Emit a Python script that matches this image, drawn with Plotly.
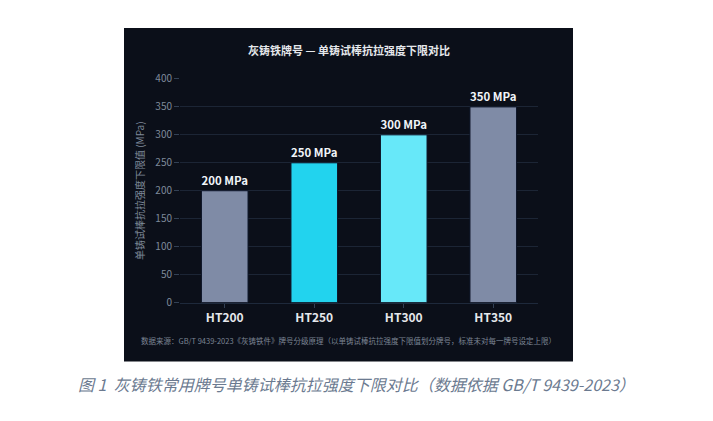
import plotly.graph_objects as go

grades = ["HT200", "HT250", "HT300", "HT350"]
strength = [200, 250, 300, 350]
labels = ["200 MPa", "250 MPa", "300 MPa", "350 MPa"]
colors = ["#7f8ba6", "#22d3ee", "#67e8f9", "#7f8ba6"]

W, H = 713, 421
font = "Noto Sans CJK SC"


# convert target screenshot pixels to paper fractions (page offset compensated)
def px(x):
    return (x - 8) / W


def py(y):
    return 1 - ((y - 14.9) / 0.964) / H


fig = go.Figure(go.Bar(
    x=grades, y=strength, text=labels, textposition="outside",
    textfont=dict(color="#f1f5f9", size=12, family=font, weight="bold"),
    marker=dict(color=colors, line=dict(color="#0f172a", width=1)),
    width=0.52, cliponaxis=False,
))

fig.add_shape(type="rect", xref="paper", yref="paper",
              x0=px(124), x1=px(573), y0=py(360), y1=py(26),
              fillcolor="#0b0f19", line_width=0, layer="below")

fig.add_annotation(text="灰铸铁牌号 — 单铸试棒抗拉强度下限对比", xref="paper", yref="paper",
                   x=px(348.5), y=py(48), yanchor="middle", showarrow=False,
                   font=dict(color="#e5e7eb", size=11, family=font, weight="bold"))
fig.add_annotation(text="数据来源：GB/T 9439-2023《灰铸铁件》牌号分级原理（以单铸试棒抗拉强度下限值划分牌号，标准未对每一牌号设定上限）",
                   xref="paper", yref="paper", x=px(348.5), y=py(339), yanchor="middle",
                   showarrow=False, font=dict(color="#7b8594", size=7.5, family=font))
fig.add_annotation(text="图 1  灰铸铁常用牌号单铸试棒抗拉强度下限对比（数据依据 GB/T 9439-2023）",
                   xref="paper", yref="paper", x=px(356), y=py(383), yanchor="middle", showarrow=False,
                   font=dict(color="#6b7a90", size=16, family=font, style="italic"))

fig.update_layout(
    width=W, height=H, margin=dict(l=0, r=0, t=0, b=0),
    paper_bgcolor="white", plot_bgcolor="#0b0f19", showlegend=False,
    xaxis=dict(domain=[px(180), px(538)], tickfont=dict(color="#e5e7eb", size=12, family=font, weight="bold"),
               ticks="outside", tickcolor="#334155", ticklen=4, linecolor="#1e293b", showline=True),
    yaxis=dict(domain=[py(301), py(77)], range=[0, 400], dtick=50,
               gridcolor="#1c2535", zeroline=False, ticks="outside", tickcolor="#334155", ticklen=5,
               tickfont=dict(color="#7f8a9a", size=10, family=font),
               title=dict(text="单铸试棒抗拉强度下限值 (MPa)", standoff=8,
                          font=dict(color="#7f8a9a", size=10, family=font))),
)

fig.write_html("out.html")
